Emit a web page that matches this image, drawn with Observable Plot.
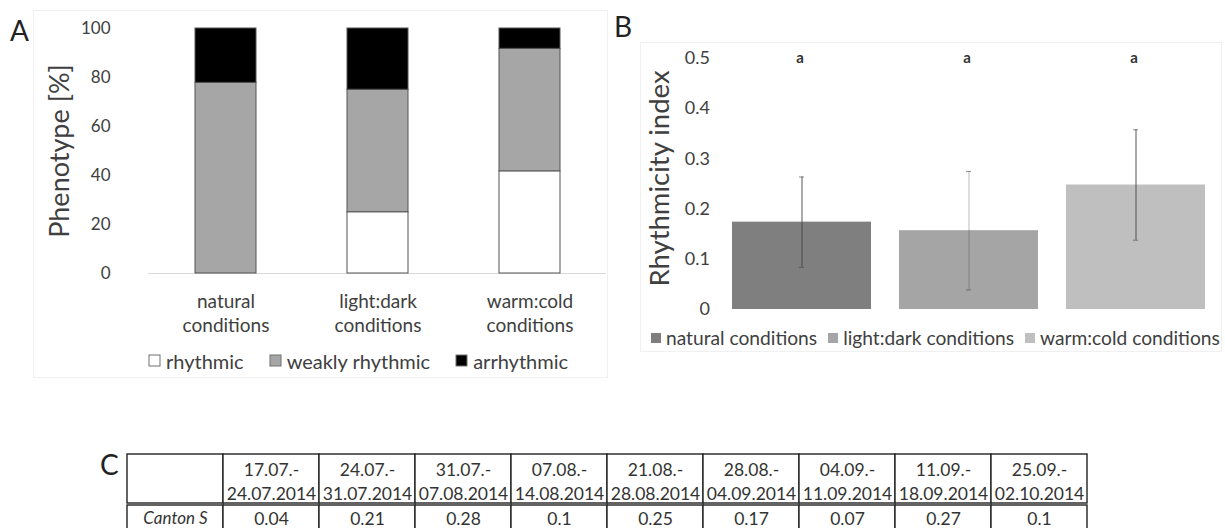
<!DOCTYPE html>
<html><head><meta charset="utf-8">
<script src="https://cdn.jsdelivr.net/npm/d3@7"></script>
<script src="https://cdn.jsdelivr.net/npm/@observablehq/plot@0.6"></script>
<style>
body{margin:0;background:#fff;font-family:Lato,sans-serif;}
#root{position:relative;width:1225px;height:528px;overflow:hidden;background:#fff;}
.abs{position:absolute;}
.box{position:absolute;border:1px solid #f0f0f0;box-sizing:border-box;}
.letter{position:absolute;font-size:28px;line-height:1;color:#222;font-family:Lato,sans-serif;}
#legA, #legB{width:max-content;}
#legA > div, #legB > div{flex-wrap:nowrap !important;white-space:nowrap;}
#legA span{margin-right:26px;}
#legA svg{margin-right:6px;}
#legA rect{stroke:#707070;stroke-width:1;}
#legB span{margin-right:11px;}
#legB svg{margin-right:5px;}
</style></head><body><div id="root"></div><script>
// ---------- data ----------
const conditions = ["natural conditions", "light:dark conditions", "warm:cold conditions"];
const phenotypes = ["rhythmic", "weakly rhythmic", "arrhythmic"];
const rhythmicPct = [0, 25, 41.7];
const weaklyPct = [77.8, 50, 50];
const arrhythmicPct = [22.2, 25, 8.3];
const rhythmicityIndex = [0.174, 0.157, 0.248];
const rhythmicityError = [0.09, 0.118, 0.11];
const significance = ["a", "a", "a"];
const periods = ["17.07.-\n24.07.2014", "24.07.-\n31.07.2014", "31.07.-\n07.08.2014", "07.08.-\n14.08.2014", "21.08.-\n28.08.2014", "28.08.-\n04.09.2014", "04.09.-\n11.09.2014", "11.09.-\n18.09.2014", "25.09.-\n02.10.2014"];
const strainName = "Canton S";
const cantonS = [0.04, 0.21, 0.28, 0.1, 0.25, 0.17, 0.07, 0.27, 0.1];

const root = document.getElementById("root");
function place(el, left, top, cls) {
  const d = document.createElement("div");
  d.className = cls || "abs";
  d.style.left = left + "px"; d.style.top = top + "px";
  if (el) d.appendChild(el);
  root.appendChild(d);
  return d;
}
function box(l, t, w, h) { const d = place(null, l, t, "box"); d.style.width = w + "px"; d.style.height = h + "px"; }
function letter(txt, l, t) { const d = place(null, l, t, "letter"); d.textContent = txt; }

box(33, 10, 575, 368);
box(640, 42, 582, 310);

// ---------- Panel A ----------
const dataA = conditions.flatMap((c, i) => [
  {condition: c, phenotype: "rhythmic", value: rhythmicPct[i]},
  {condition: c, phenotype: "weakly rhythmic", value: weaklyPct[i]},
  {condition: c, phenotype: "arrhythmic", value: arrhythmicPct[i]}
]);
const txt = "#404040";
const plotA = Plot.plot({
  width: 610, height: 340, marginLeft: 148, marginRight: 4, marginTop: 28, marginBottom: 67,
  style: {fontFamily: "Lato, sans-serif", color: txt, background: "transparent", overflow: "visible"},
  x: {domain: conditions, paddingInner: 0.6, paddingOuter: 0.3},
  y: {domain: [0, 100]},
  color: {domain: phenotypes, range: ["#ffffff", "#a6a6a6", "#000000"]},
  marks: [
    Plot.ruleY([0], {stroke: "#d9d9d9"}),
    Plot.barY(dataA, {x: "condition", y: "value", fill: "phenotype", stroke: "#555", strokeWidth: 1}),
    Plot.axisY({ticks: [0, 20, 40, 60, 80, 100], tickSize: 0, tickPadding: 38, label: null, fontSize: 17}),
    Plot.axisX({tickSize: 0, tickPadding: 17, label: null, fontSize: 19, lineHeight: 1.28, tickFormat: d => d.replace(" ", "\n")}),
    Plot.text(["Phenotype [%]"], {frameAnchor: "left", textAnchor: "middle", lineAnchor: "middle", rotate: -90, dx: -88, fontSize: 27, fill: txt})
  ]
});
place(plotA, 0, 0);
const legA = Plot.legend({color: {domain: phenotypes, range: ["#ffffff", "#a6a6a6", "#000000"]}, legend: "swatches", swatchSize: 11,
  style: {fontFamily: "Lato, sans-serif", fontSize: "20px", color: txt, background: "transparent", margin: "0"}});
const la = place(legA, 149, 344); la.id = "legA";

// ---------- Panel B ----------
const dataB = conditions.map((c, i) => ({condition: c, mean: rhythmicityIndex[i], err: rhythmicityError[i], sig: significance[i]}));
const colorsB = ["#7f7f7f", "#a5a5a5", "#bfbfbf"];
const plotB = Plot.plot({
  width: 585, height: 314, marginLeft: 77.5, marginRight: 5.5, marginTop: 58, marginBottom: 5,
  style: {fontFamily: "Lato, sans-serif", color: txt, background: "transparent", overflow: "visible"},
  x: {domain: conditions, paddingInner: 0.17, paddingOuter: 0.085, axis: null},
  y: {domain: [0, 0.5]},
  color: {domain: conditions, range: colorsB},
  marks: [
    Plot.barY(dataB, {x: "condition", y: "mean", fill: "condition"}),
    Plot.ruleX(dataB, {x: "condition", y1: d => d.mean - d.err, y2: d => d.mean + d.err, stroke: "#444", strokeWidth: 1.2, strokeOpacity: (d, i) => i === 1 ? 0.3 : 0.75}),
    Plot.tickY(dataB, {x: "condition", y: d => d.mean + d.err, stroke: "#444", strokeOpacity: 0.6, insetLeft: 67, insetRight: 67}),
    Plot.tickY(dataB, {x: "condition", y: d => d.mean - d.err, stroke: "#444", strokeOpacity: 0.6, insetLeft: 67, insetRight: 67}),
    Plot.text(dataB, {x: "condition", text: "sig", frameAnchor: "top", lineAnchor: "middle", dx: -2, fontSize: 15, fontWeight: "bold", fill: "#333"}),
    Plot.axisY({ticks: [0, 0.1, 0.2, 0.3, 0.4, 0.5], tickSize: 0, tickPadding: 8, label: null, fontSize: 18, tickFormat: d => String(d)}),
    Plot.text(["Rhythmicity index"], {frameAnchor: "left", textAnchor: "middle", lineAnchor: "middle", rotate: -90, dx: -57.5, dy: -5.5, fontSize: 27.5, fill: txt})
  ]
});
place(plotB, 640, 0);
const legB = Plot.legend({color: {domain: conditions, range: colorsB}, legend: "swatches", swatchSize: 10,
  style: {fontFamily: "Lato, sans-serif", fontSize: "19.2px", color: txt, background: "transparent", margin: "0"}});
const lb = place(legB, 651, 321); lb.id = "legB";

// ---------- Panel C (table) ----------
const colKeys = ["", ...periods];
const tableStyle = {fontFamily: "Lato, sans-serif", color: "#333", background: "transparent", overflow: "visible"};
const header = Plot.plot({
  width: 1225, height: 57, marginLeft: 122, marginRight: 134, marginTop: 4, marginBottom: 4,
  style: tableStyle,
  x: {domain: colKeys, padding: 0, axis: null},
  marks: [
    Plot.cell(colKeys, {x: d => d, fill: "white", stroke: "#222", strokeWidth: 1.4}),
    Plot.text(colKeys, {x: d => d, text: d => d, fontSize: 17.5, lineHeight: 1.42, dy: 1, fill: "#333"})
  ]
});
place(header, 0, 450);
const rowData = colKeys.map((k, i) => ({col: k, label: i === 0 ? strainName : String(cantonS[i - 1])}));
const body = Plot.plot({
  width: 1225, height: 26, marginLeft: 122, marginRight: 134, marginTop: 3, marginBottom: 0,
  style: tableStyle,
  x: {domain: colKeys, padding: 0, axis: null},
  marks: [
    Plot.cell(rowData, {x: "col", fill: "white", stroke: "#222", strokeWidth: 1.4, insetBottom: -10}),
    Plot.text(rowData.slice(0, 1), {x: "col", text: "label", fontSize: 17, fontStyle: "italic", fill: "#333", dy: 2}),
    Plot.text(rowData.slice(1), {x: "col", text: "label", fontSize: 17.5, fill: "#333", dy: 2})
  ]
});
place(body, 0, 502);

letter("A", 10, 16);
letter("B", 614, 12);
letter("C", 100, 450);
</script></body></html>
